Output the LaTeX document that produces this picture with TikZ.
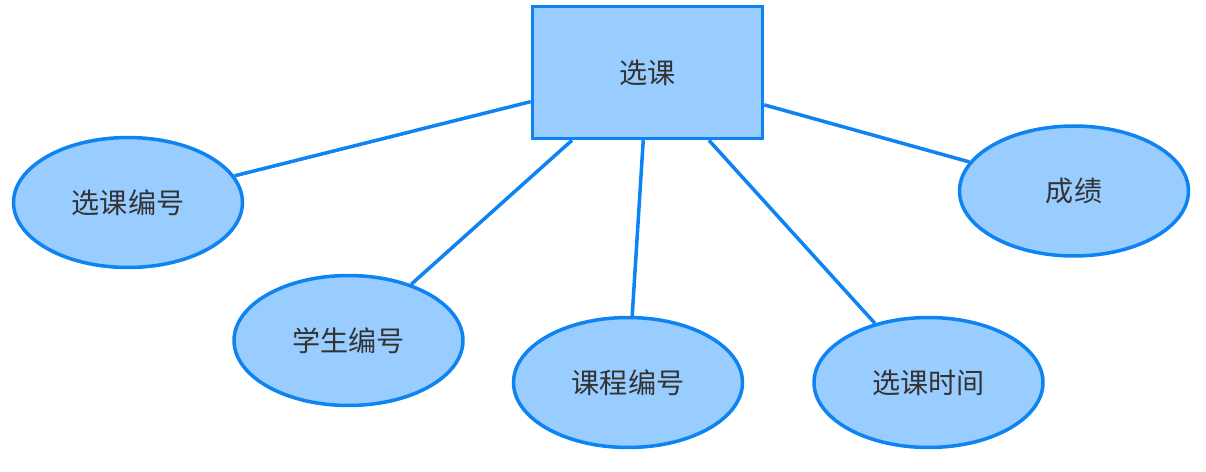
\documentclass[tikz,border=0pt]{standalone}
\usepackage{fontspec}
\newfontfamily\cjk{Noto Sans CJK SC}
\usetikzlibrary{shapes.geometric,positioning}
\definecolor{erfill}{RGB}{153,204,255}
\definecolor{erline}{RGB}{14,132,242}
\definecolor{ertext}{RGB}{51,51,51}
\tikzset{
  entitybox/.style={draw=erline,fill=erfill,line width=2pt,minimum width=4.6cm,minimum height=2.64cm,text=ertext},
  attrib/.style={ellipse,draw=erline,fill=erfill,line width=2pt,minimum width=4.58cm,minimum height=2.6cm,text=ertext},
  link/.style={erline,line width=2pt}
}

\begin{document}
\begin{tikzpicture}[font=\cjk\fontsize{16pt}{19pt}\selectfont,x=0.02cm,y=-0.02cm]
\useasboundingbox (0,0) rectangle (1206,472);
% ---------- entity ----------
\node[entitybox] (xk) at (647.5,72.5) {选课};
% ---------- attributes ----------
\foreach \nm/\x/\y/\lb in {xkbh/128/202.5/选课编号, xsbh/348.5/340.5/学生编号,
                           kcbh/628/382.5/课程编号, xksj/928.5/382.5/选课时间,
                           cj/1074/191/成绩}{
  \node[attrib] (\nm) at (\x,\y) {\lb};
  \draw[link] (xk) -- (\nm);
}
\end{tikzpicture}
\end{document}
